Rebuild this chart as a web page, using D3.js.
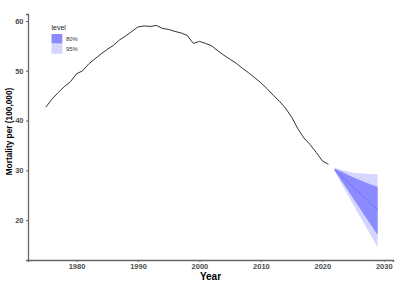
<!DOCTYPE html>
<html><head><meta charset="utf-8">
<script src="https://cdn.jsdelivr.net/npm/d3@7"></script>
<style>html,body{margin:0;padding:0;background:#fff;}svg{display:block;font-family:"Liberation Sans",Arial,sans-serif;}</style>
</head><body>
<svg id="c" width="397" height="283"></svg>
<script>
const years = [1975,1976,1977,1978,1979,1980,1981,1982,1983,1984,1985,1986,1987,1988,1989,1990,1991,1992,1993,1994,1995,1996,1997,1998,1999,2000,2001,2002,2003,2004,2005,2006,2007,2008,2009,2010,2011,2012,2013,2014,2015,2016,2017,2018,2019,2020,2021];
const mortality = [42.7,44.3,45.6,46.8,47.8,49.4,50.0,51.4,52.4,53.4,54.3,55.1,56.2,57.0,57.9,58.8,59.0,58.9,59.1,58.5,58.3,57.9,57.6,57.1,55.5,55.9,55.5,55.0,54.0,53.1,52.3,51.5,50.5,49.6,48.6,47.6,46.4,45.1,43.9,42.5,40.7,38.4,36.5,35.2,33.6,31.9,31.2];
const fcYears = [2022,2023,2024,2025,2026,2027,2028,2029];
const fcMean = [30.15,29.0,27.8,26.7,25.5,24.4,23.2,22.1];
const lo80 = [30.0,28.1,26.3,24.4,22.6,20.7,18.9,17.0];
const hi80 = [30.3,29.8,29.2,28.6,28.1,27.6,27.1,26.7];
const lo95 = [29.8,27.6,25.4,23.2,21.0,18.9,16.7,14.5];
const hi95 = [30.5,30.1,29.8,29.5,29.4,29.3,29.2,29.2];
const xTicks = [1980,1990,2000,2010,2020,2030];
const yTicks = [20,30,40,50,60];
const levels = ["80%","95%"];
const levelColors = ["#8b8bff","#d5d5ff"];

const svg = d3.select("#c");
const L = 28, R = 393, T = 14, B = 260;
const x = d3.scaleLinear().domain([1972.1, 2031.5]).range([L, R]);
const y = d3.scaleLinear().domain([12.0, 61.4]).range([B, T]);

// bands
const fc = fcYears.map((yr,i)=>({yr, m:fcMean[i], l80:lo80[i], h80:hi80[i], l95:lo95[i], h95:hi95[i]}));
svg.append("path").datum(fc).attr("fill", levelColors[1])
  .attr("d", d3.area().x(d=>x(d.yr)).y0(d=>y(d.l95)).y1(d=>y(d.h95)));
svg.append("path").datum(fc).attr("fill", levelColors[0])
  .attr("d", d3.area().x(d=>x(d.yr)).y0(d=>y(d.l80)).y1(d=>y(d.h80)));
svg.append("path").datum(fc).attr("fill","none").attr("stroke","#5f6fff").attr("stroke-width",0.8)
  .attr("d", d3.line().x(d=>x(d.yr)).y(d=>y(d.m)));

// history
svg.append("path").datum(years.map((yr,i)=>[yr, mortality[i]]))
  .attr("fill","none").attr("stroke","#333").attr("stroke-width",1)
  .attr("d", d3.line().x(d=>x(d[0])).y(d=>y(d[1])));

// axes
const gx = svg.append("g").attr("transform",`translate(0,${B})`)
  .call(d3.axisBottom(x).tickValues(xTicks).tickFormat(d3.format("d")).tickSize(2).tickPadding(2));
const gy = svg.append("g").attr("transform",`translate(${L},0)`)
  .call(d3.axisLeft(y).tickValues(yTicks).tickSize(2).tickPadding(2.5));
[gx,gy].forEach(g=>{
  g.select(".domain").attr("stroke","#666").attr("stroke-width",1.3);
  g.selectAll(".tick line").attr("stroke","#666");
  g.selectAll(".tick text").attr("fill","#4d4d4d").attr("font-size",7.5).attr("font-weight","bold");
});

svg.append("text").attr("x",(L+R)/2).attr("y",280).attr("text-anchor","middle")
  .attr("font-size",10).attr("font-weight","bold").attr("fill","#000").text("Year");
svg.append("text").attr("transform",`translate(11.5,131.5) rotate(-90)`).attr("text-anchor","middle")
  .attr("font-size",8.3).attr("font-weight","bold").attr("fill","#000").text("Mortality per (100,000)");

// legend
const lg = svg.append("g");
lg.append("text").attr("x",51.5).attr("y",30).attr("font-size",7).attr("fill","#222").text("level");
levels.forEach((lv,i)=>{
  lg.append("rect").attr("x",51.5).attr("y",34+i*10.2).attr("width",10.8).attr("height",9.6).attr("fill",levelColors[i]);
  lg.append("text").attr("x",66).attr("y",41.2+i*9.5).attr("font-size",5.8).attr("fill","#333").text(lv);
});
</script>
</body></html>
